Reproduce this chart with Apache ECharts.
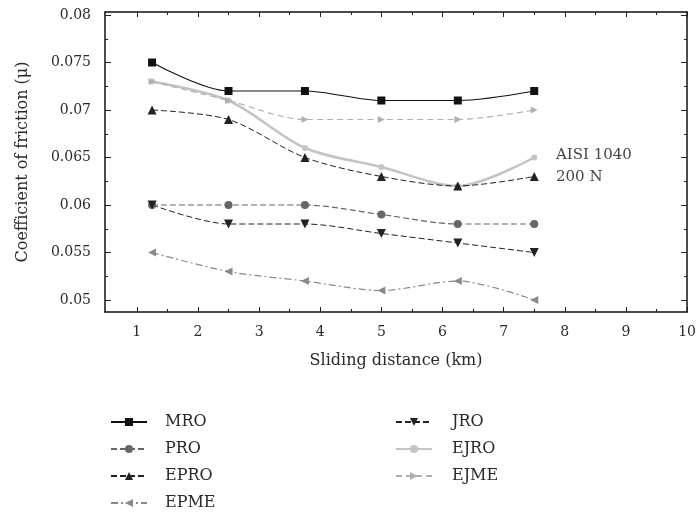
<!DOCTYPE html>
<html><head><meta charset="utf-8">
<script src="https://cdn.jsdelivr.net/npm/echarts@6/dist/echarts.min.js"></script>
<style>html,body{margin:0;padding:0;background:#fff}#c{width:699px;height:513px}</style>
</head><body><div id="c"></div>
<script>
var distances = [1.25, 2.5, 3.75, 5, 6.25, 7.5];
var MRO  = [0.075, 0.072, 0.072, 0.071, 0.071, 0.072];
var PRO  = [0.060, 0.060, 0.060, 0.059, 0.058, 0.058];
var EPRO = [0.070, 0.069, 0.065, 0.063, 0.062, 0.063];
var EPME = [0.055, 0.053, 0.052, 0.051, 0.052, 0.050];
var JRO  = [0.060, 0.058, 0.058, 0.057, 0.056, 0.055];
var EJRO = [0.073, 0.071, 0.066, 0.064, 0.062, 0.065];
var EJME = [0.073, 0.071, 0.069, 0.069, 0.069, 0.070];
var xTicks = [1,2,3,4,5,6,7,8,9,10];
var xMinor = [1.5,2.5,3.5,4.5,5.5,6.5,7.5,8.5,9.5];
var yTicks = [0.05,0.055,0.06,0.065,0.07,0.075,0.08];
var yMinor = [0.0525,0.0575,0.0625,0.0675,0.0725,0.0775];
var legendLeft = ['MRO','PRO','EPRO','EPME'];
var legendRight = ['JRO','EJRO','EJME'];

function pts(v){ return distances.map(function(d,i){ return [d, v[i]]; }); }
var F = 'DejaVu Serif';
var TXT = '#2a2a2a';
var chart = echarts.init(document.getElementById('c'));
var XMIN = 0.48, XMAX = 10, YMIN = 0.048737, YMAX = 0.080316;
function xa(pos, ticks, len, labels, line){
  return {type:'value', position:pos, min:XMIN, max:XMAX,
    axisLine:{show:line, onZero:false, lineStyle:{color:'#111', width:1.5}},
    axisTick:{show:true, inside:true, length:len, customValues:ticks, lineStyle:{color:'#222'}},
    axisLabel:{show:labels, customValues:ticks, fontFamily:F, fontSize:14, color:TXT, margin:13},
    splitLine:{show:false}};
}
function ya(pos, ticks, len, labels, line){
  return {type:'value', position:pos, min:YMIN, max:YMAX,
    axisLine:{show:line, onZero:false, lineStyle:{color:'#111', width:1.5}},
    axisTick:{show:true, inside:true, length:len, customValues:ticks, lineStyle:{color:'#222'}},
    axisLabel:{show:labels, customValues:ticks, fontFamily:F, fontSize:14, color:TXT, margin:14,
      formatter:function(v){ return String(+v.toFixed(4)); }},
    splitLine:{show:false}};
}
var xAxes = [xa('bottom', xTicks, 5, true, true), xa('top', xTicks, 5, false, true),
             xa('bottom', xMinor, 3, false, false), xa('top', xMinor, 3, false, false)];
xAxes[0].name = 'Sliding distance (km)';
xAxes[0].nameLocation = 'middle';
xAxes[0].nameGap = 41;
xAxes[0].nameTextStyle = {fontFamily:F, fontSize:16, color:TXT};
var yAxes = [ya('left', yTicks, 6, true, true), ya('right', yTicks, 6, false, true),
             ya('left', yMinor, 3, false, false), ya('right', yMinor, 3, false, false)];
yAxes[0].name = 'Coefficient of friction (\u03bc)';
yAxes[0].nameLocation = 'middle';
yAxes[0].nameGap = 74;
yAxes[0].nameTextStyle = {fontFamily:F, fontSize:16, color:TXT};

function s(name, data, color, type, width, symbol, size, rot, z){
  return {name:name, type:'line', data:pts(data), symbol:symbol, symbolSize:size, symbolRotate:rot||0,
    lineStyle:{color:color, type:type, width:width}, itemStyle:{color:color}, z:z||2,
    smooth:0.3, animation:false};
}
var series = [
  s('EJRO', EJRO, '#c4c4c4', 'solid', 2.5, 'circle', 6, 0, 1),
  s('EJME', EJME, '#b0b0b0', [6,4], 1.2, 'triangle', 7, -90, 1),
  s('MRO', MRO, '#111', 'solid', 1.2, 'rect', 8, 0, 3),
  s('PRO', PRO, '#666', [6,3], 1.2, 'circle', 8, 0, 2),
  s('EPRO', EPRO, '#222', [6,3], 1, 'triangle', 9, 0, 2),
  s('EPME', EPME, '#8a8a8a', [7,3,2,3], 1.2, 'triangle', 8, 90, 2),
  s('JRO', JRO, '#222', [6,3], 1, 'triangle', 9, 180, 2)
];
var rowTops = [414, 441, 468, 495];
var legends = [];
legendLeft.forEach(function(n, i){
  legends.push({data:[n], left:110, top:rowTops[i], itemWidth:36, itemHeight:10, padding:0,
    textStyle:{fontFamily:F, fontSize:16, color:TXT, padding:[0,0,0,13]}});
});
legendRight.forEach(function(n, i){
  legends.push({data:[n], left:395, top:rowTops[i], itemWidth:36, itemHeight:10, padding:0,
    textStyle:{fontFamily:F, fontSize:16, color:TXT, padding:[0,0,0,15]}});
});
chart.setOption({
  animation:false,
  backgroundColor:'#fff',
  grid:{left:105, right:11, top:12, bottom:201},
  xAxis:xAxes, yAxis:yAxes,
  legend:legends,
  graphic:[
    {type:'text', left:556, top:148, style:{text:'AISI 1040', fontFamily:F, fontSize:15, fill:'#444'}},
    {type:'text', left:556, top:170, style:{text:'200 N', fontFamily:F, fontSize:15, fill:'#444'}}
  ],
  series:series
});
</script></body></html>
